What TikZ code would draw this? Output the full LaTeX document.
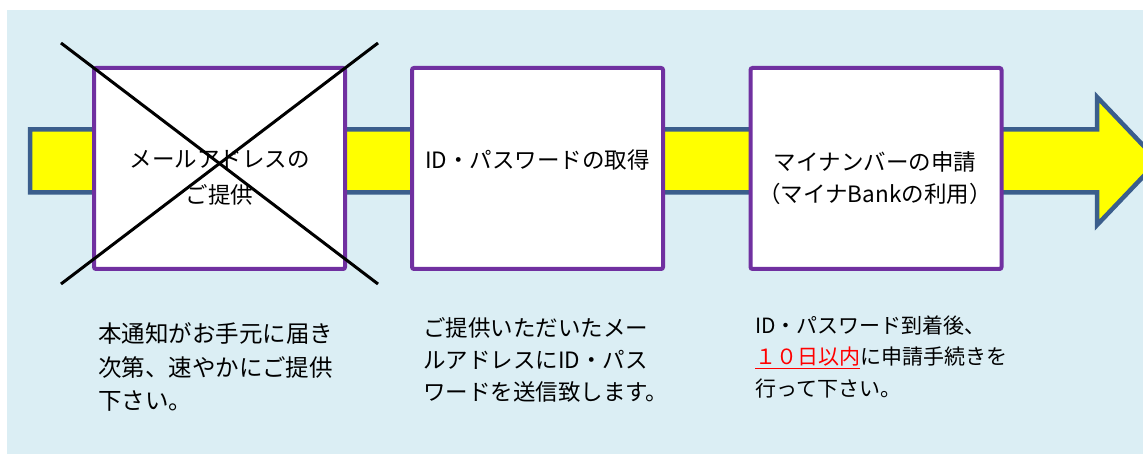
\documentclass[tikz,border=0pt]{standalone}
\usepackage{fontspec}
\setmainfont{Noto Sans CJK JP}
\definecolor{bgblue}{HTML}{DBEEF4}
\definecolor{bandline}{HTML}{3B5E8C}
\definecolor{boxline}{HTML}{7030A0}
\definecolor{bandfill}{HTML}{FFFF00}
\newcommand{\redunderline}[1]{\textcolor{red}{\setbox0\hbox{#1}\rlap{\rule[-4.5pt]{\wd0}{1.7pt}}\box0}}
\begin{document}
\begin{tikzpicture}[x=1pt,y=-1pt,
  bandstyle/.style={draw=bandline,line width=4.5pt,fill=bandfill,line join=miter},
  stepbox/.style={draw=boxline,line width=4pt,fill=white,rounded corners=2pt,minimum width=251pt,minimum height=201pt,inner sep=0pt},
  boxtext/.style={font=\fontsize{22.5}{32}\selectfont,align=center,inner sep=0pt},
  notetext/.style={align=left,inner sep=0pt,anchor=west},
  crossline/.style={draw=black,line width=3pt}]
\useasboundingbox (0,0) rectangle (1143,454);
\begin{scope}
\clip (0,0) rectangle (1143,454);
\fill[bgblue] (7,10) rectangle (1143,454);
\draw[bandstyle] (30,129.5) -- (1097,129.5) -- (1097,97) -- (1158,161) -- (1097,225) -- (1097,192.5) -- (30,192.5) -- cycle;
\end{scope}
\node[stepbox] (b1) at (219.5,168.5) {};
\node[stepbox] (b2) at (537.5,168.5) {};
\node[stepbox] (b3) at (876,168.5) {};
\node[boxtext] (t1) at (219.5,178) {メールアドレスの\\[4pt]ご提供};
\node[boxtext] (t2) at (537.5,160) {ID・パスワードの取得};
\node[boxtext] (t3) at (875,178) {マイナンバーの申請\\（マイナBankの利用）};
\node[notetext,font=\fontsize{23.5}{33.5}\selectfont] (n1) at (98,367) {本通知がお手元に届き\\次第、速やかにご提供\\下さい。};
\node[notetext,font=\fontsize{22.5}{32}\selectfont] (n2) at (423,360) {ご提供いただいたメー\\ルアドレスにID・パス\\ワードを送信致します。};
\node[notetext,font=\fontsize{21}{31.5}\selectfont] (n3) at (755,357) {ID・パスワード到着後、\\\redunderline{１０日以内}に申請手続きを\\行って下さい。};
\coordinate (xa) at (61,43);
\coordinate (xb) at (378,284);
\coordinate (xc) at (378,43);
\coordinate (xd) at (61,284);
\draw[crossline] (xa) -- (xb);
\draw[crossline] (xc) -- (xd);
\end{tikzpicture}
\end{document}
